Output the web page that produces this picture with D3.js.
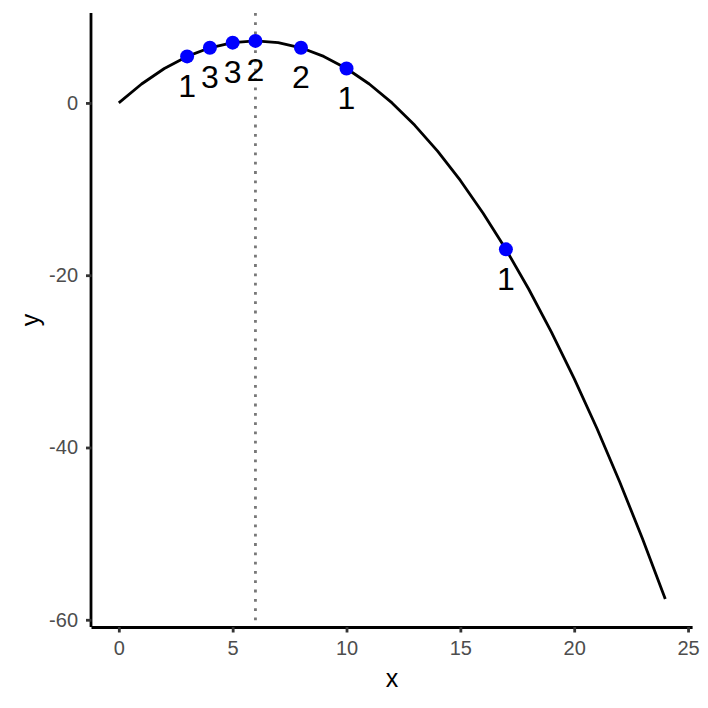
<!DOCTYPE html>
<html><head><meta charset="utf-8">
<script src="https://cdn.jsdelivr.net/npm/d3@7"></script>
<style>body{margin:0;background:#fff;} text{font-family:"Liberation Sans",Arial,sans-serif;}</style>
</head><body>
<script>
// Curve values
const curveX = [0,1,2,3,4,5,6,7,8,9,10,11,12,13,14,15,16,17,18,19,20,21,22,23,24];
const curveY = [0,2.2,4.0,5.4,6.4,7.0,7.2,7.0,6.4,5.4,4.0,2.2,0,-2.6,-5.6,-9.0,-12.8,-17.0,-21.6,-26.6,-32.0,-37.8,-44.0,-50.6,-57.6];
// Highlighted points
const pointX = [3,4,5,6,8,10,17];
const pointY = [5.4,6.4,7.0,7.2,6.4,4.0,-17.0];
const pointLabel = ["1","3","3","2","2","1","1"];
const vlineX = 6;
const labelNudge = -3.4;
const xTicks = [0,5,10,15,20,25];
const yTicks = [0,-20,-40,-60];

const W=708,H=708;
const m={left:91.5,right:708-692.6,top:13,bottom:708-627};
const svg=d3.select("body").append("svg").attr("width",W).attr("height",H);
const x=d3.scaleLinear().domain([-1.2,25.2]).range([m.left,W-m.right]);
const y=d3.scaleLinear().domain([-60.84,10.44]).range([H-m.bottom,m.top]);

// dotted vertical line
svg.append("line").attr("x1",x(vlineX)).attr("x2",x(vlineX))
  .attr("y1",y.range()[1]).attr("y2",y.range()[0])
  .attr("stroke","#777").attr("stroke-width",2.8).attr("stroke-dasharray","2.8,6.5");

// curve
const line=d3.line().x((d,i)=>x(curveX[i])).y((d,i)=>y(curveY[i]));
svg.append("path").datum(curveX).attr("d",line).attr("fill","none")
  .attr("stroke","#000").attr("stroke-width",2.8).attr("stroke-linejoin","round");

// points
svg.selectAll("circle.p").data(pointX).enter().append("circle")
  .attr("cx",(d,i)=>x(d)).attr("cy",(d,i)=>y(pointY[i])).attr("r",7).attr("fill","#0000ff");

// labels
svg.selectAll("text.l").data(pointX).enter().append("text")
  .attr("x",(d)=>x(d)).attr("y",(d,i)=>y(pointY[i]+labelNudge))
  .attr("text-anchor","middle").attr("dominant-baseline","central")
  .attr("font-size",32).attr("fill","#000").text((d,i)=>pointLabel[i]);

// axes
const xAxis=svg.append("g").attr("transform",`translate(0,${H-m.bottom})`)
  .call(d3.axisBottom(x).tickValues(xTicks).tickSize(5.5).tickPadding(8.5).tickFormat(d3.format("d")));
const yAxis=svg.append("g").attr("transform",`translate(${m.left},0)`)
  .call(d3.axisLeft(y).tickValues(yTicks).tickSize(5.5).tickPadding(8).tickFormat(d=>d<0?"-"+Math.abs(d):d));
[xAxis,yAxis].forEach(a=>{
  a.select(".domain").attr("stroke","#000").attr("stroke-width",2.8);
  a.selectAll(".tick line").attr("stroke","#333").attr("stroke-width",2.8);
  a.selectAll(".tick text").attr("fill","#4d4d4d").attr("font-size",20).attr("font-family","Liberation Sans, Arial, sans-serif");
});
xAxis.select(".domain").attr("d",`M${m.left},0.5H${W-m.right}`);
yAxis.select(".domain").attr("d",`M-0.5,${y.range()[0]}V${y.range()[1]}`);

svg.append("text").attr("x",(m.left+W-m.right)/2).attr("y",687).attr("text-anchor","middle")
  .attr("font-size",25).attr("fill","#000").text("x");
svg.append("text").attr("transform",`translate(39,${(m.top+H-m.bottom)/2}) rotate(-90)`)
  .attr("text-anchor","middle").attr("font-size",25).attr("fill","#000").text("y");
</script>
</body></html>
